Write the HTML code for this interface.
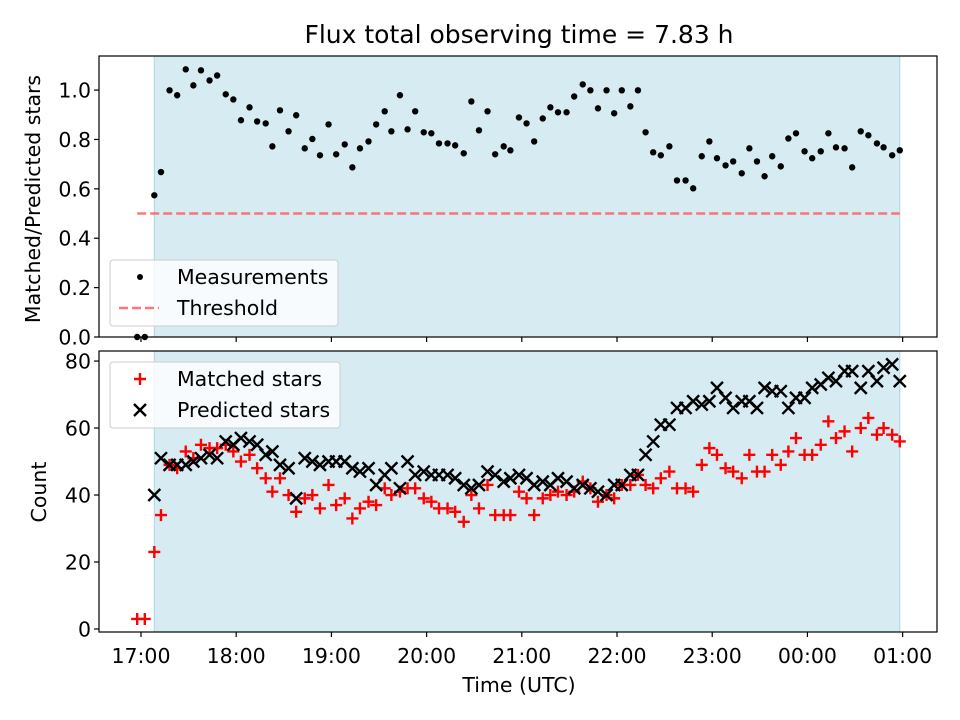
<!DOCTYPE html>
<html><head><meta charset="utf-8"><style>
html,body{margin:0;padding:0;background:#fff;}
svg{display:block;font-family:"DejaVu Sans","Liberation Sans",sans-serif;}
</style></head><body>
<svg id="fig" width="960" height="720" viewBox="0 0 960 720" xmlns="http://www.w3.org/2000/svg">
<text x="519" y="43" text-anchor="middle" font-size="25">Flux total observing time = 7.83 h</text>
<g id="topPanel"></g>
<g id="botPanel"></g>
<text x="519" y="692" text-anchor="middle" font-size="20.5">Time (UTC)</text>
<text transform="translate(40,199) rotate(-90)" text-anchor="middle" font-size="20.5">Matched/Predicted stars</text>
<text transform="translate(46,492) rotate(-90)" text-anchor="middle" font-size="20.5">Count</text>
</svg>
<script>
const times = [-0.04,0.04,0.14,0.21,0.30,0.38,0.47,0.55,0.63,0.72,0.80,0.89,0.97,1.05,1.14,1.22,1.31,1.38,1.46,1.55,1.63,1.72,1.80,1.88,1.97,2.05,2.14,2.22,2.30,2.39,2.47,2.56,2.63,2.72,2.80,2.88,2.97,3.05,3.13,3.22,3.30,3.39,3.47,3.55,3.64,3.72,3.81,3.88,3.97,4.05,4.13,4.22,4.30,4.38,4.47,4.55,4.64,4.72,4.80,4.89,4.97,5.05,5.14,5.22,5.30,5.38,5.46,5.55,5.63,5.72,5.80,5.89,5.97,6.05,6.14,6.22,6.31,6.39,6.47,6.55,6.63,6.72,6.80,6.88,6.97,7.05,7.14,7.22,7.30,7.39,7.47,7.56,7.64,7.73,7.80,7.89,7.97];
const ratio = [0,0,0.574,0.668,0.999,0.979,1.084,1.019,1.080,1.039,1.059,0.983,0.962,0.878,0.930,0.873,0.865,0.772,0.918,0.833,0.898,0.764,0.802,0.736,0.861,0.740,0.780,0.687,0.764,0.792,0.861,0.914,0.833,0.979,0.841,0.914,0.829,0.825,0.784,0.784,0.776,0.744,0.954,0.837,0.914,0.740,0.772,0.756,0.889,0.865,0.792,0.885,0.930,0.910,0.910,0.974,1.023,0.999,0.926,0.999,0.906,0.999,0.934,0.999,0.829,0.748,0.736,0.772,0.634,0.634,0.602,0.732,0.792,0.724,0.695,0.711,0.663,0.764,0.711,0.651,0.732,0.691,0.804,0.825,0.752,0.724,0.752,0.825,0.768,0.764,0.687,0.833,0.817,0.784,0.768,0.736,0.756];
const matched = [3,3,23,34,49,48,53,51,55,54,54,55,53,50,52,48,45,41,45,40,35,39,40,36,43,37,39,33,36,38,37,42,40,41,42,42,39,38,36,36,35,32,40,36,43,34,34,34,41,39,34,39,40,41,40,41,44,42,38,40,39,43,43,46,43,42,45,47,42,42,41,49,54,52,48,47,45,52,47,47,52,49,53,57,52,52,55,62,57,59,53,60,63,58,60,58,56];
const predicted = [null,null,40,51,49,49,49,50,51,52,51,56,55,57,56,55,52,53,49,48,39,51,50,49,50,50,50,48,47,48,43,46,48,42,50,46,47,46,46,46,45,43,42,43,47,46,44,45,46,45,43,44,43,45,44,42,43,42,41,40,43,43,46,46,52,56,61,61,66,66,68,67,68,72,69,66,68,68,66,72,71,71,66,69,69,72,73,75,74,77,77,72,77,74,78,79,74];
const threshold = 0.5;
const spanStart = 0.14, spanEnd = 7.97;
const xTickLabels = ["17:00","18:00","19:00","20:00","21:00","22:00","23:00","00:00","01:00"];
const topTicks = [0.0,0.2,0.4,0.6,0.8,1.0];
const botTicks = [0,20,40,60,80];

const NS="http://www.w3.org/2000/svg";
const L=99,R=937;
const xs=t=>L+(t+0.441)/(8.361+0.441)*(R-L);
const yTop=v=>337-(v/1.138)*281;
const yBot=v=>632-((v+0.9)/83.9)*281;
function mk(p,tag,a){const e=document.createElementNS(NS,tag);for(const k in a)e.setAttribute(k,a[k]);p.appendChild(e);return e;}

function panel(g,y0,y1,yf,ticks,fmt,nm){
  let e=mk(g,'rect',{x:xs(spanStart),y:y0,width:xs(spanEnd)-xs(spanStart),height:y1-y0,fill:'#add8e6','fill-opacity':0.5,stroke:'#add8e6'});
  
  
  xTickLabels.forEach((lab,i)=>{
    const x=xs(i);
    let tk=mk(g,'line',{x1:x,x2:x,y1:y1,y2:y1+5,stroke:'#000','stroke-width':1.2});
    
    
    if(nm==='bottom'){
      let t=mk(g,'text',{x:x,y:y1+31,'text-anchor':'middle','font-size':20.5});
      t.textContent=lab;
      
      
    }
  });
  ticks.forEach(v=>{
    const y=yf(v);
    let tk=mk(g,'line',{x1:L-5,x2:L,y1:y,y2:y,stroke:'#000','stroke-width':1.2});
    
    
    let t=mk(g,'text',{x:L-8,y:y+7.5,'text-anchor':'end','font-size':20.5});
    t.textContent=fmt(v);
    
    
  });
}
function frame(g,y0,y1,nm){
  let f=mk(g,'rect',{x:L,y:y0,width:R-L,height:y1-y0,fill:'none',stroke:'#000','stroke-width':1.2});
  
  
}
const topG=document.getElementById('topPanel'), botG=document.getElementById('botPanel');
panel(topG,56,337,yTop,topTicks,v=>v.toFixed(1),'top');
let th=mk(topG,'line',{x1:xs(times[0]),x2:xs(times[times.length-1]),y1:yTop(threshold),y2:yTop(threshold),stroke:'#ff6060','stroke-opacity':0.85,'stroke-width':2.5,'stroke-dasharray':'9,4'});


times.forEach((t,i)=>{
  let c=mk(topG,'circle',{cx:xs(t),cy:yTop(ratio[i]),r:3.2,fill:'#000'});
  
  
});
frame(topG,56,337,'top');

panel(botG,351,632,yBot,botTicks,v=>String(v),'bottom');
times.forEach((t,i)=>{
  const x=xs(t),y=yBot(matched[i]),s=6;
  let p=mk(botG,'path',{d:`M${x-s} ${y}H${x+s}M${x} ${y-s}V${y+s}`,stroke:'#f00','stroke-width':2.4,fill:'none'});
  
  
});
times.forEach((t,i)=>{
  if(predicted[i]===null)return;
  const x=xs(t),y=yBot(predicted[i]),s=6;
  let p=mk(botG,'path',{d:`M${x-s} ${y-s}L${x+s} ${y+s}M${x-s} ${y+s}L${x+s} ${y-s}`,stroke:'#000','stroke-width':2.4,fill:'none'});
  
  
});
frame(botG,351,632,'bottom');

function legend(g,x,y,w,h,items,nm){
  let lg=mk(g,'g',{});
  
  
  mk(lg,'rect',{x:x,y:y,width:w,height:h,rx:3,fill:'#fff','fill-opacity':0.8,stroke:'#ccc'});
  items.forEach((it,i)=>{
    const cy=y+17+i*31, cx=x+30;
    let e=mk(lg,'g',{});
    
    
    if(it[0]==='dot')mk(e,'circle',{cx:cx,cy:cy,r:3,fill:'#000'});
    if(it[0]==='dash')mk(e,'line',{x1:x+9,x2:x+49,y1:cy,y2:cy,stroke:'#ff6060','stroke-opacity':0.85,'stroke-width':2.5,'stroke-dasharray':'9,4'});
    if(it[0]==='plus')mk(e,'path',{d:`M${cx-6} ${cy}H${cx+6}M${cx} ${cy-6}V${cy+6}`,stroke:'#f00','stroke-width':2.4});
    if(it[0]==='x')mk(e,'path',{d:`M${cx-6} ${cy-6}L${cx+6} ${cy+6}M${cx-6} ${cy+6}L${cx+6} ${cy-6}`,stroke:'#000','stroke-width':2.4});
    let t=mk(e,'text',{x:x+67,y:cy+7,'font-size':20.5});
    t.textContent=it[1];
  });
}
legend(topG,110,260,228,66,[['dot','Measurements'],['dash','Threshold']],'top-legend');
legend(botG,110,362,230,66,[['plus','Matched stars'],['x','Predicted stars']],'bottom-legend');
</script>
</body></html>
